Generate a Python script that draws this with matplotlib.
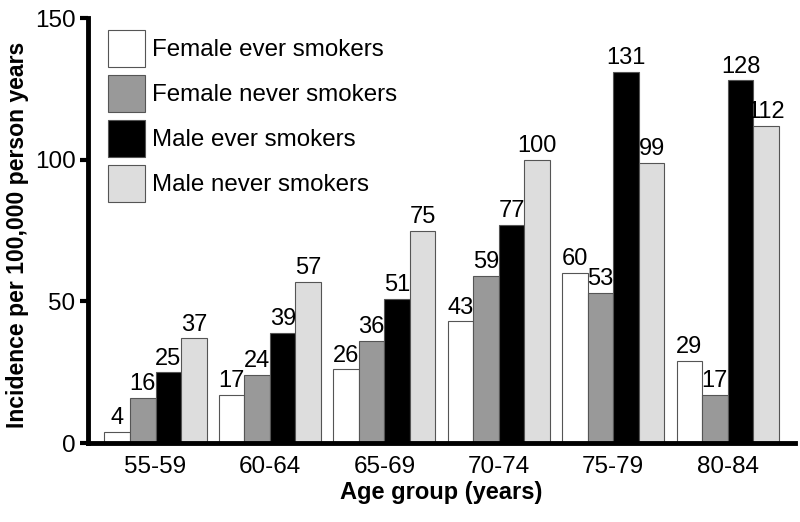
import matplotlib
matplotlib.use("Agg")
import matplotlib.pyplot as plt
import numpy as np

plt.rcParams['font.family'] = ['Liberation Sans', 'DejaVu Sans']

age_groups = ['55-59', '60-64', '65-69', '70-74', '75-79', '80-84']
female_ever = [4, 17, 26, 43, 60, 29]
female_never = [16, 24, 36, 59, 53, 17]
male_ever = [25, 39, 51, 77, 131, 128]
male_never = [37, 57, 75, 100, 99, 112]

series = [
    ('Female ever smokers', female_ever, 'white'),
    ('Female never smokers', female_never, '#999999'),
    ('Male ever smokers', male_ever, 'black'),
    ('Male never smokers', male_never, '#dddddd'),
]

fig = plt.figure(figsize=(8, 5.22), dpi=100)
ax = fig.add_axes([0.11, 0.151, 0.884, 0.8145])

x = np.arange(len(age_groups))
w = 0.223
for i, (name, vals, col) in enumerate(series):
    rects = ax.bar(x + (i - 1.5) * w, vals, w, color=col, edgecolor='#555555',
                   linewidth=0.8, label=name)
    for r in rects:
        h = r.get_height()
        ax.annotate('{}'.format(h), xy=(r.get_x() + r.get_width() / 2, h),
                    xytext=(0, 2), textcoords='offset points',
                    ha='center', va='bottom', fontsize=17)

ax.set_xlim(-0.59, 5.59)
ax.set_ylim(0, 150)
ax.set_yticks([0, 50, 100, 150])
ax.set_xticks(x)
ax.set_xticklabels(age_groups)
ax.tick_params(axis='y', length=6, width=3, labelsize=17.5, pad=3)
ax.tick_params(axis='x', length=0, labelsize=17.5, pad=9)

for s in ['top', 'right']:
    ax.spines[s].set_visible(False)
ax.spines['left'].set_linewidth(3.5)
ax.spines['bottom'].set_linewidth(3.5)

ax.set_ylabel('Incidence per 100,000 person years', fontsize=16.6,
              fontweight='bold', va='center')
ax.yaxis.set_label_coords(-0.100, 0.49)
ax.set_xlabel('Age group (years)', fontsize=17, fontweight='bold', va='center')
ax.xaxis.set_label_coords(0.5, -0.115)

# legend boxes ~37 px square, rows 45 px apart
leg = ax.legend(loc='upper left', bbox_to_anchor=(20 / 707, 1 - 12 / 425),
                frameon=False, fontsize=17.4, handlelength=1.53,
                handleheight=1.98, labelspacing=0.33, handletextpad=0.3,
                borderaxespad=0, borderpad=0)

fig.savefig('out.png', dpi=100)
